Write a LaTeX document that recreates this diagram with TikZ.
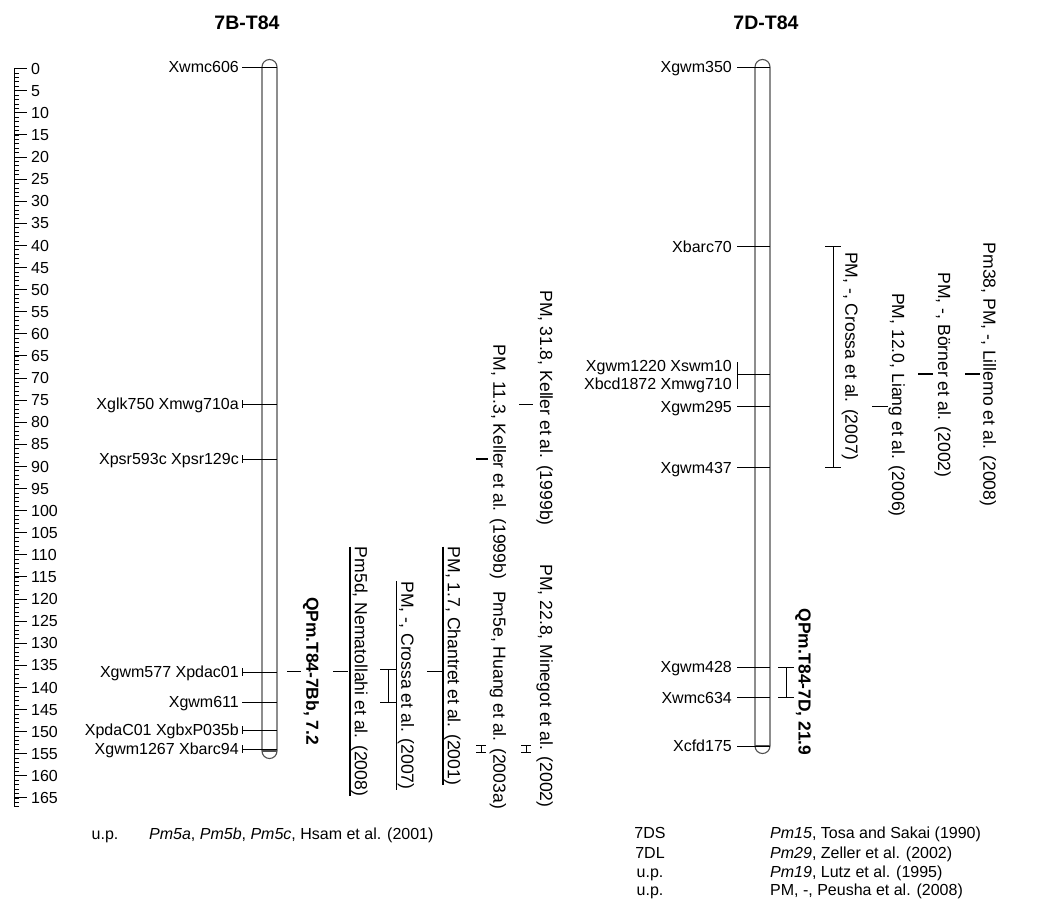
\documentclass[tikz,border=0pt]{standalone}
\usepackage{fontspec}
\setmainfont{Liberation Sans}
\definecolor{tubegray}{RGB}{80,80,80}
\begin{document}
\begin{tikzpicture}[x=1pt,y=-1pt,
  every node/.style={font=\fontsize{16}{18}\selectfont, inner sep=0pt},
  tube/.style={draw=tubegray, line width=1.1pt},
  mk/.style={line width=0.8pt},
  thk/.style={line width=2.6pt},
  lblE/.style={anchor=base east, yshift=-5.7pt},
  lblW/.style={anchor=base west, yshift=-5.7pt},
  lblC/.style={anchor=base, yshift=-5.7pt},
  rot/.style={rotate=-90, anchor=center, font=\fontsize{17.6}{19}\selectfont},
  bold/.style={font=\fontsize{17.4}{19}\selectfont\bfseries},
  ttl/.style={font=\fontsize{19.5}{22}\selectfont\bfseries},
  ul/.style={line width=1.3pt}]
\useasboundingbox (0,0) rectangle (1054,922);

% titles
\node[ttl,lblC,yshift=-1.5pt] (t7b) at (247,22) {7B-T84};
\node[ttl,lblC,yshift=-1.5pt] (t7d) at (766,22) {7D-T84};

% ruler
\coordinate (rtop) at (14,68.5);
\coordinate (rbot) at (14,806.6);
\draw[mk] (rtop) -- (rbot);
\foreach \i in {0,...,167} {\draw[line width=0.6pt] (14,{68.5+4.42*\i}) -- ++(5,0);}
\foreach \v in {0,5,...,165} {
  \draw[mk] (14,{68.5+4.42*\v}) -- ++(13,0);
  \node[lblW] (r\v) at (31,{68.5+4.42*\v}) {\v};
}

% ---------- chromosome 7B ----------
\draw[tube] (262,67) -- (262,751) arc[start angle=180,end angle=0,radius=7.5] -- (277,67) arc[start angle=0,end angle=-180,radius=7.5];
\draw[tube] (262,751) -- (277,751);

\foreach \n/\y/\t/\b in {a/67/Xwmc606/0, b/404/Xglk750 Xmwg710a/1, c/459/Xpsr593c Xpsr129c/1,
   d/672/Xgwm577 Xpdac01/1, e/702/Xgwm611/0, f/730/XpdaC01 XgbxP035b/1, g/749/Xgwm1267 Xbarc94/1} {
  \node[lblE] (mb\n) at (239,\y) {\t};
  \coordinate (cb\n) at (277,\y);
  \draw[mk] (242,\y) -- (cb\n);
  \ifnum\b=1 \draw[mk] (242,\y-4) -- (242,\y+4); \fi
}

% 7B QTLs / genes
\node[rot,bold] (q7b) at (311,671) {QPm.T84-7Bb, 7.2};
\coordinate (q7bt) at (287,671);
\draw[mk] (q7bt) -- ++(14,0);

\node[rot] (pm5d) at (359.5,671.5) {Pm5d, Nematollahi et al. (2008)};
\draw[ul] ([xshift=-1pt]pm5d.south west) -- ([xshift=-1pt]pm5d.south east);
\coordinate (pm5dt) at (333,671);
\draw[mk] (pm5dt) -- ++(15,0);

\node[rot] (cr7b) at (406,685.5) {PM, -, Crossa et al. (2007)};
\draw[ul] ([xshift=-1pt]cr7b.south west) -- ([xshift=-1pt]cr7b.south east);
\coordinate (cr7ba) at (388,669);
\coordinate (cr7bb) at (388,702);
\draw[mk] (cr7ba) -- (cr7bb);
\draw[mk] ([xshift=-8pt]cr7ba) -- ([xshift=8pt]cr7ba);
\draw[mk] ([xshift=-8pt]cr7bb) -- ([xshift=8pt]cr7bb);

\node[rot] (chan) at (452.5,666) {PM, 1.7, Chantret et al. (2001)};
\draw[ul] ([xshift=-1pt]chan.south west) -- ([xshift=-1pt]chan.south east);
\coordinate (chant) at (427,671);
\draw[mk] (chant) -- ++(16,0);

\node[rot] (kel2) at (498,462) {PM, 11.3, Keller et al. (1999b)};
\coordinate (kel2t) at (476,459);
\draw[thk] (kel2t) -- ++(12,0);

\node[rot] (huang) at (498,700) {Pm5e, Huang et al. (2003a)};
\coordinate (hua) at (481,745);
\coordinate (hub) at (481,752);
\draw[mk] (hua) -- (hub);
\draw[mk] ([xshift=-5pt]hua) -- ([xshift=5pt]hua);
\draw[mk] ([xshift=-5pt]hub) -- ([xshift=5pt]hub);

\node[rot] (kel1) at (544.6,408) {PM, 31.8, Keller et al. (1999b)};
\coordinate (kel1t) at (519,404);
\draw[mk] (kel1t) -- ++(14,0);

\node[rot] (mine) at (544.6,686) {PM, 22.8, Minegot et al. (2002)};
\coordinate (mia) at (526,745);
\coordinate (mib) at (526,752);
\draw[mk] (mia) -- (mib);
\draw[mk] ([xshift=-5pt]mia) -- ([xshift=5pt]mia);
\draw[mk] ([xshift=-5pt]mib) -- ([xshift=5pt]mib);

% ---------- chromosome 7D ----------
\draw[tube] (755,67) -- (755,746) arc[start angle=180,end angle=0,radius=7.5] -- (770,67) arc[start angle=0,end angle=-180,radius=7.5];
\draw[tube] (755,746) -- (770,746);

\foreach \n/\y/\t in {a/67/Xgwm350, b/246.5/Xbarc70, d/406.5/Xgwm295, e/467.5/Xgwm437,
   f/667/Xgwm428, g/697.5/Xwmc634, h/746/Xcfd175} {
  \node[lblE] (md\n) at (732,\y) {\t};
  \coordinate (cd\n) at (770,\y);
  \draw[mk] (737,\y) -- (cd\n);
}
\node[lblE] (mdc1) at (732,365.5) {Xgwm1220 Xswm10};
\node[lblE] (mdc2) at (732,383.5) {Xbcd1872 Xmwg710};
\coordinate (cdc) at (770,374);
\draw[mk] (737,374) -- (cdc);
\draw[mk] (737,362) -- (737,389);

% 7D QTLs / genes
\node[rot,bold] (q7d) at (803,682) {QPm.T84-7D, 21.9};
\coordinate (q7da) at (786,667);
\coordinate (q7db) at (786,697.5);
\draw[mk] (q7da) -- (q7db);
\draw[mk] ([xshift=-8pt]q7da) -- ([xshift=8pt]q7da);
\draw[mk] ([xshift=-8pt]q7db) -- ([xshift=8pt]q7db);

\node[rot] (cr7d) at (850,356) {PM, -, Crossa et al. (2007)};
\coordinate (cr7da) at (833,246.5);
\coordinate (cr7db) at (833,467.5);
\draw[mk] (cr7da) -- (cr7db);
\draw[mk] ([xshift=-8pt]cr7da) -- ([xshift=8pt]cr7da);
\draw[mk] ([xshift=-8pt]cr7db) -- ([xshift=8pt]cr7db);

\node[rot] (liang) at (896.6,405) {PM, 12.0, Liang et al. (2006)};
\coordinate (liangt) at (872,406.5);
\draw[mk] (liangt) -- ++(16,0);

\node[rot] (borner) at (942.6,375) {PM, -, Börner et al. (2002)};
\coordinate (bornert) at (918,374);
\draw[thk] (bornert) -- ++(15,0);

\node[rot] (lille) at (988,374.5) {Pm38, PM, -, Lillemo et al. (2008)};
\coordinate (lillet) at (965,374);
\draw[thk] (lillet) -- ++(15,0);

% legends
\node[lblC] (up7b) at (105,834) {u.p.};
\node[lblW] (lg7b) at (149,834) {\textit{Pm5a}, \textit{Pm5b}, \textit{Pm5c}, Hsam et al. (2001)};

\node[lblC] (k1) at (650,833) {7DS};
\node[lblC] (k2) at (650,852.5) {7DL};
\node[lblC] (k3) at (650,871.5) {u.p.};
\node[lblC] (k4) at (650,890) {u.p.};
\node[lblW] (l1) at (770,833) {\textit{Pm15}, Tosa and Sakai (1990)};
\node[lblW] (l2) at (770,852.5) {\textit{Pm29}, Zeller et al. (2002)};
\node[lblW] (l3) at (770,871.5) {\textit{Pm19}, Lutz et al. (1995)};
\node[lblW] (l4) at (770,890) {PM, -, Peusha et al. (2008)};
\end{tikzpicture}
\end{document}
